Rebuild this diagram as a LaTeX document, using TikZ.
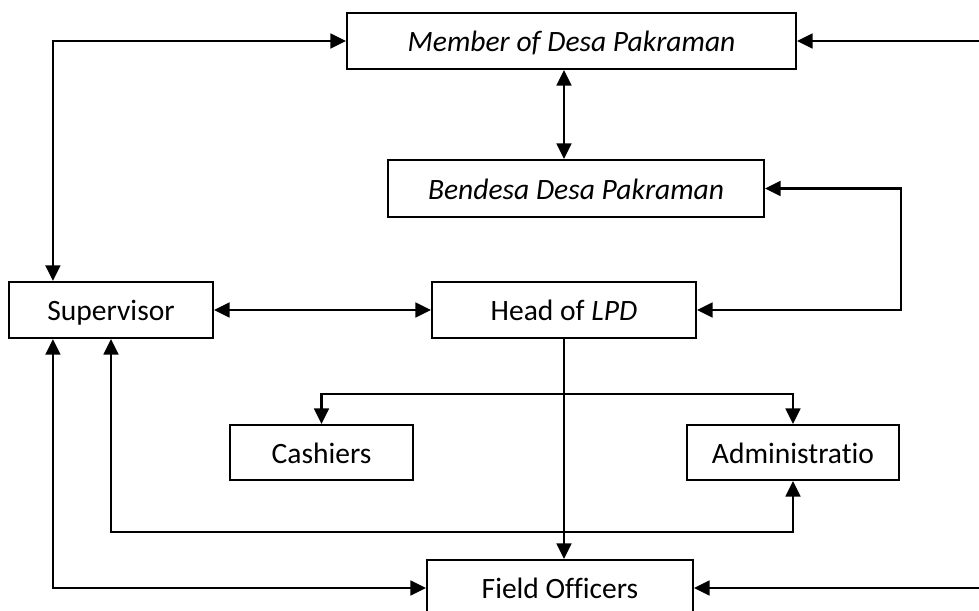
\documentclass[tikz,border=0pt]{standalone}
\usepackage{fontspec}
\setmainfont{Carlito}[Ligatures=NoCommon]
\usepackage{tikz}
\usetikzlibrary{arrows.meta}
\usetikzlibrary{shapes}
\tikzstyle{bx} = [rectangle, draw, line width=1.5pt, inner sep=0pt,
    text centered, text height=19pt, text depth=3.4pt,
    minimum height=1.4cm, font=\fontsize{21}{24}\selectfont]

\begin{document}
\begin{tikzpicture}[x=0.025cm,y=-0.025cm,line width=1.6pt,
                    >={Triangle[length=11pt,width=10.5pt]}]
  \useasboundingbox (0,0) rectangle (979,611);

  \node[bx, minimum width=11.225cm]          (member)   at (571.5,41)  {\textit{Member of Desa Pakraman}};
  \node[bx, minimum width=9.4cm, minimum height=1.425cm] (bendesa) at (576,188.5) {\textit{Bendesa Desa Pakraman}};
  \node[bx, minimum width=5.1cm]             (super)    at (111,310)   {Supervisor};
  \node[bx, minimum width=6.6cm]             (head)     at (564,310)   {Head of \textit{LPD}};
  \node[bx, minimum width=4.575cm, minimum height=1.375cm] (cash) at (321.5,452.5) {Cashiers};
  \node[bx, minimum width=5.3cm, minimum height=1.375cm]   (admin) at (793,452.5) {Administratio};
  \node[bx, minimum width=6.65cm]            (field)    at (560,588)   {Field Officers};

  \coordinate (topR) at (979,41);
  \coordinate (botR) at (979,588);

  \draw[<->] ([xshift=1.125cm]super.north west) |- (member.west);
  \draw[->] (topR) -- (member.east);
  \draw[<->] (member.south -| head) -- (bendesa.north -| head);
  \draw[<->] (bendesa.east) -- ++(136,0) |- (head.east);
  \draw[<->] (super.east) -- (head.west);
  \draw[->] (head.south) -- (head.south |- field.north);
  \draw[<->] (cash.north) -- ++(0,-30) -| (admin.north);
  \draw[<->] (super.south) -- ++(0,193) -| (admin.south);
  \draw[<->] ([xshift=1.125cm]super.south west) |- (field.west);
  \draw[->] (botR) -- (field.east);
\end{tikzpicture}
\end{document}
